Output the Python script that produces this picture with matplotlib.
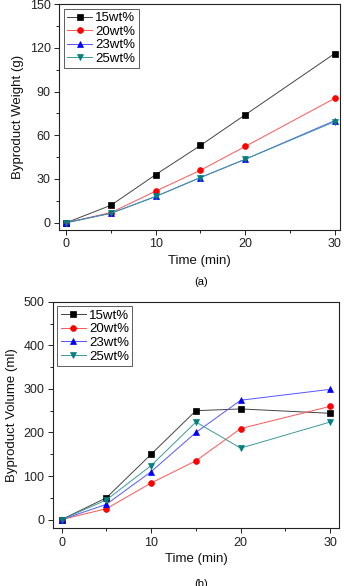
import numpy as np
import matplotlib
matplotlib.use("Agg")
import matplotlib.pyplot as plt
from matplotlib.ticker import MultipleLocator

plt.rcParams['font.family'] = ['Liberation Sans', 'DejaVu Sans']

# ---- data ----
time_min = [0, 5, 10, 15, 20, 30]
labels = ['15wt%', '20wt%', '23wt%', '25wt%']

weight_15 = [0, 12, 33, 53, 74, 116]
weight_20 = [0, 7, 21.7, 36, 52.3, 85.3]
weight_23 = [0, 6.5, 18, 31, 43.5, 70]
weight_25 = [0, 6.5, 18, 31, 43.5, 69.3]

volume_15 = [0, 50, 150, 250, 254, 244]
volume_20 = [0, 25, 84, 135, 209, 260]
volume_23 = [0, 35, 110, 200, 274, 299]
volume_25 = [0, 45, 124, 224, 164, 224]

colors = ['black', '#ff0000', '#0000ff', '#007f7f']
line_colors = ['#444444', '#ff5555', '#5555ff', '#3a9a9a']
markers = ['s', 'o', '^', 'v']

fig = plt.figure(figsize=(3.44, 5.86), dpi=100)
ax1 = fig.add_axes([0.172, 0.6075, 0.816, 0.3855])
ax2 = fig.add_axes([0.153, 0.0985, 0.833, 0.3865])


def huitu(ax, ys, ylabel, ylim, ymajor, xlim):
    for y, c, lc, m, lab in zip(ys, colors, line_colors, markers, labels):
        ax.plot(time_min, y, color=lc, lw=0.7, marker=m, markersize=4.2,
                markerfacecolor=c, markeredgecolor=c,
                markeredgewidth=0.5, label=lab)
    ax.set_xlim(*xlim)
    ax.set_ylim(*ylim)
    ax.xaxis.set_major_locator(MultipleLocator(10))
    ax.xaxis.set_minor_locator(MultipleLocator(5))
    ax.yaxis.set_major_locator(MultipleLocator(ymajor))
    ax.yaxis.set_minor_locator(MultipleLocator(ymajor / 2))
    ax.tick_params(which='major', direction='out', length=3.5, width=0.7,
                   labelsize=9, colors='#222222', pad=2.5)
    ax.tick_params(which='minor', direction='out', length=2, width=0.6)
    for s in ax.spines.values():
        s.set_linewidth(0.8)
        s.set_color('#222222')
    ax.set_xlabel('Time (min)', fontsize=9.5, labelpad=3, color='#111111')
    ax.set_ylabel(ylabel, fontsize=9.5, labelpad=4, color='#111111')
    leg = ax.legend(loc='upper left', fontsize=9.5, handlelength=1.9,
                    handletextpad=0.25, labelspacing=0.1, borderpad=0.25,
                    borderaxespad=0.35, fancybox=False, framealpha=1)
    leg.get_frame().set_edgecolor('#444444')
    leg.get_frame().set_linewidth(0.6)


huitu(ax1, [weight_15, weight_20, weight_23, weight_25],
      'Byproduct Weight (g)', (-5, 150), 30, (-0.8, 30.6))
huitu(ax2, [volume_15, volume_20, volume_23, volume_25],
      'Byproduct Volume (ml)', (-20, 500), 100, (-1.0, 31.0))

fig.text(0.584, 1 - 282 / 586, '(a)', ha='center', va='center', fontsize=8)
fig.text(0.584, 1 - 584 / 586, '(b)', ha='center', va='center', fontsize=8)

fig.savefig('out.png', dpi=100)
